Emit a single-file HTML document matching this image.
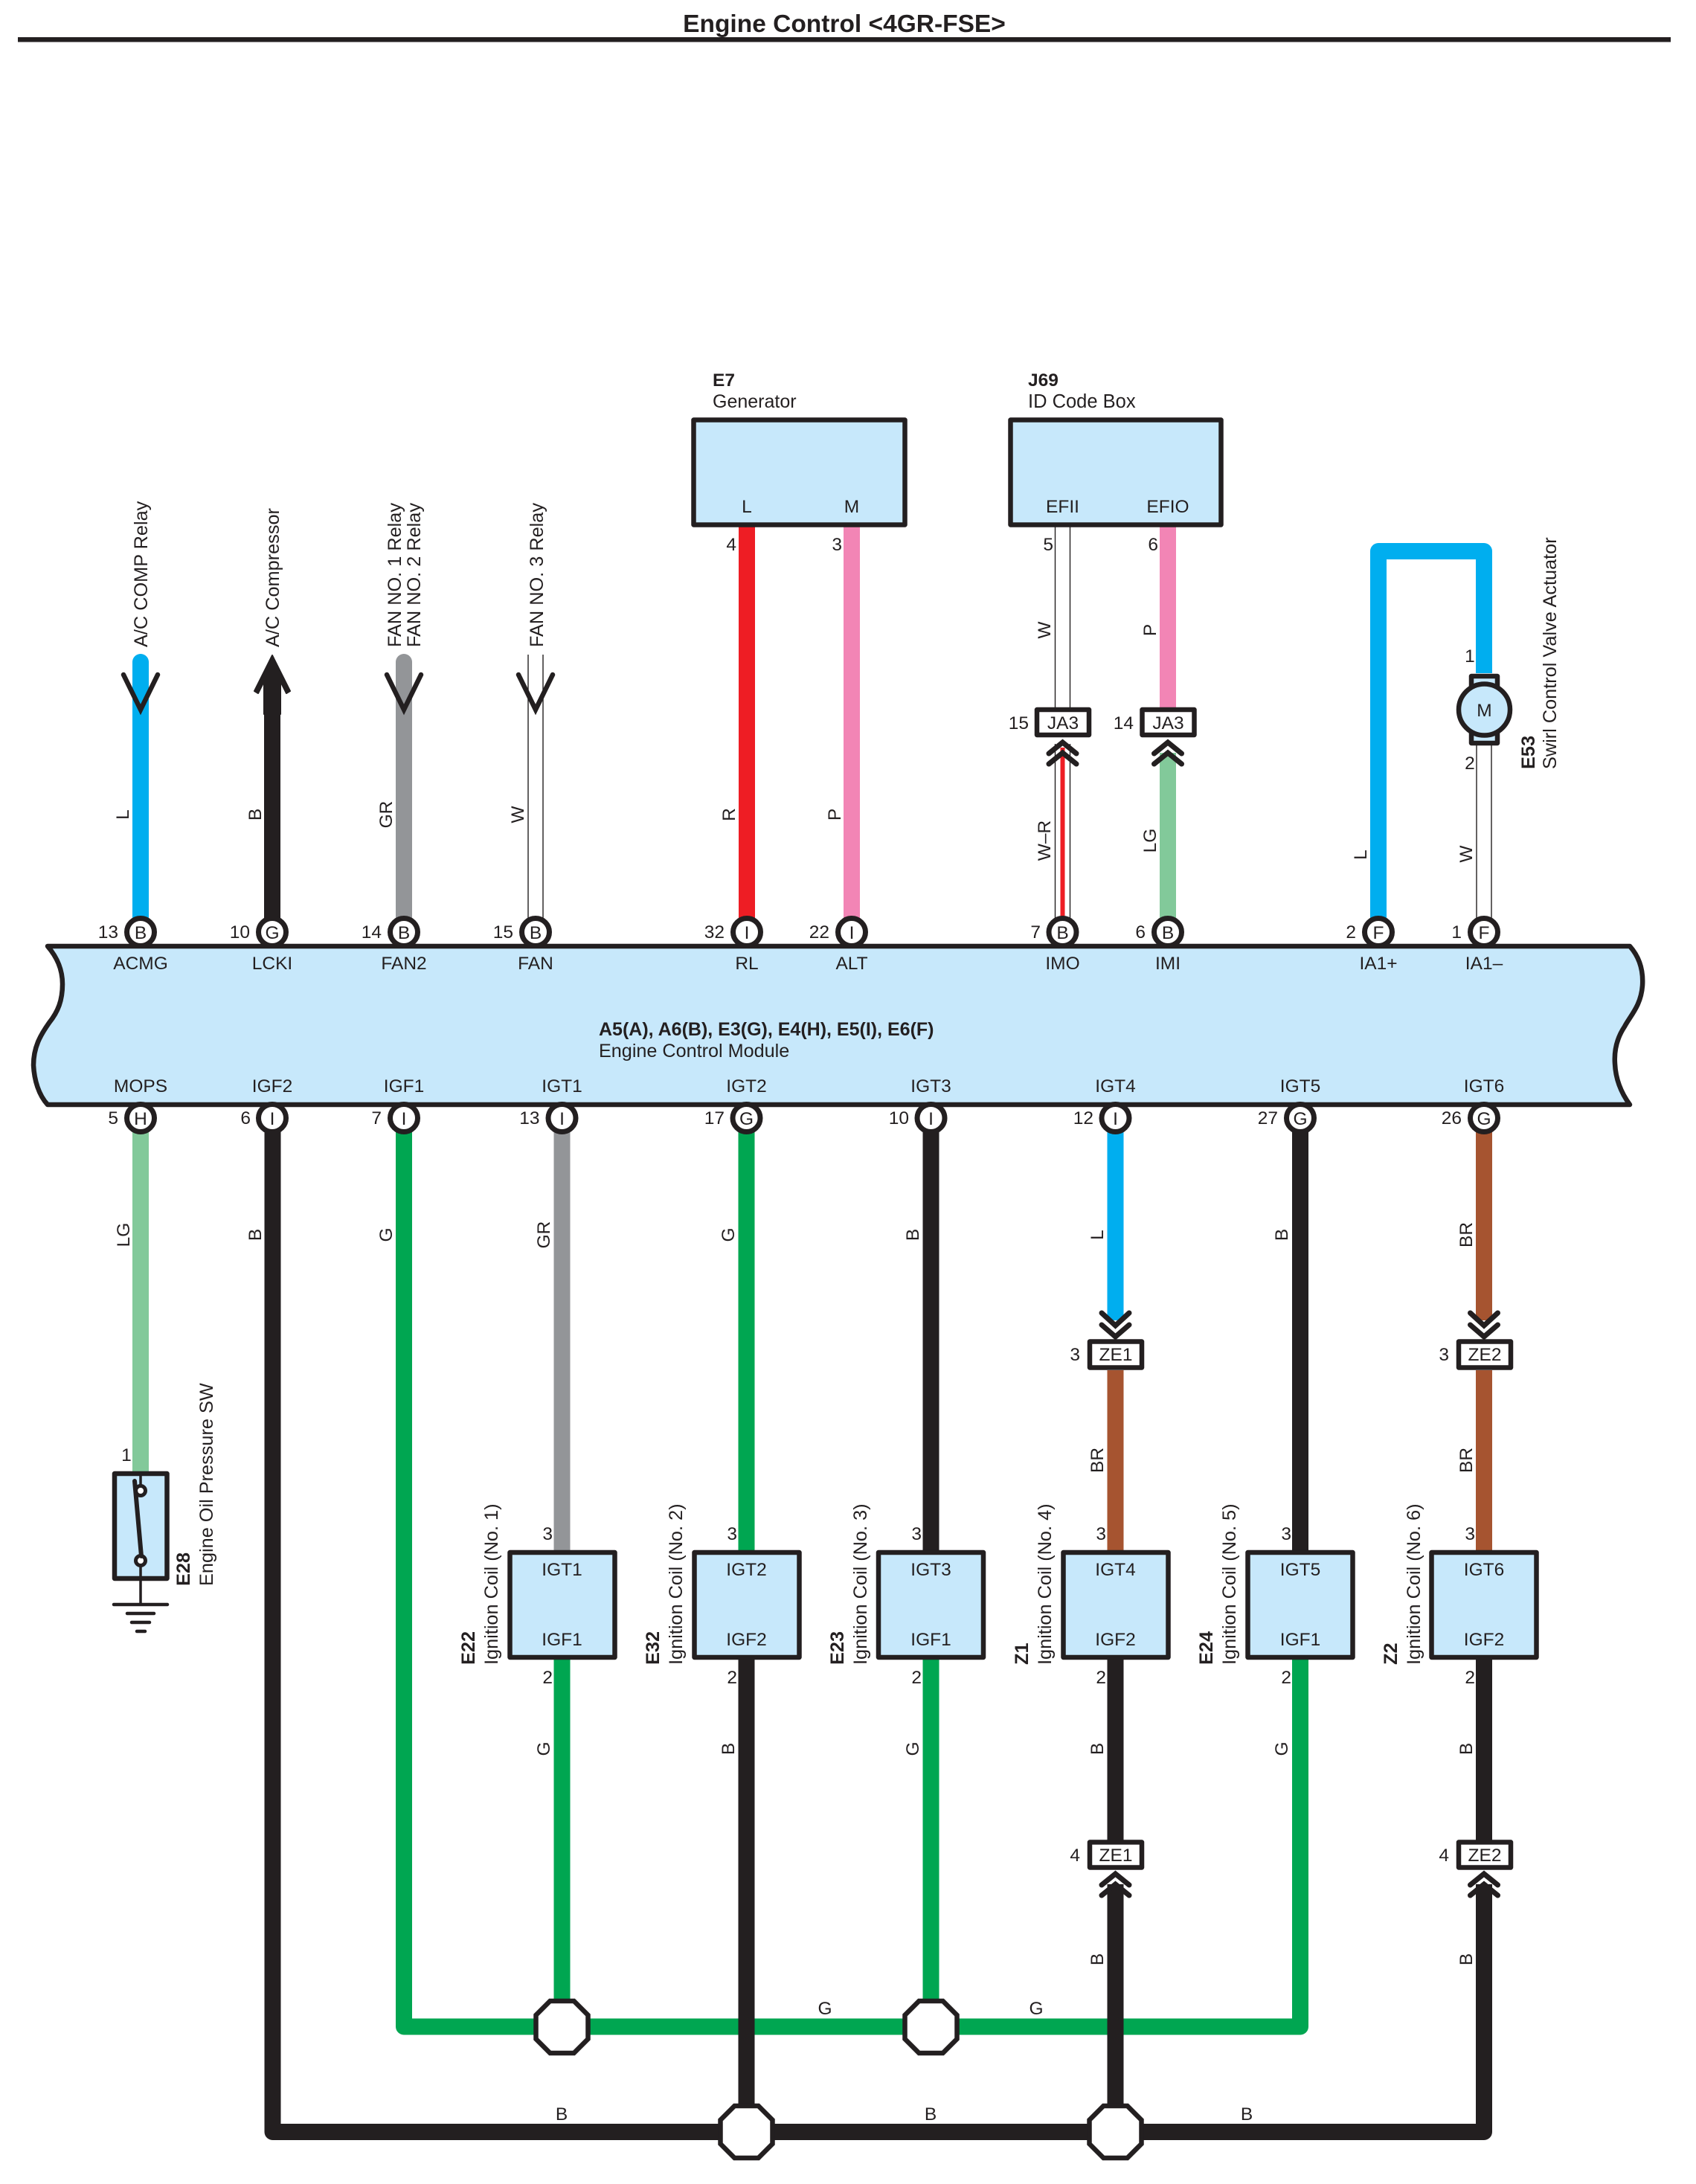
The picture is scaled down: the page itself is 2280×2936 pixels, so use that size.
<!DOCTYPE html>
<html><head><meta charset="utf-8"><style>
html,body{margin:0;padding:0;background:#fff}
svg{display:block}
text{font-family:"Liberation Sans",sans-serif;font-size:24.5px;fill:#231f20}
.m{text-anchor:middle}.e{text-anchor:end}.b{font-weight:bold}.r{font-size:25.3px}
.w{fill:none;stroke-width:22;stroke-linejoin:round}
.t{fill:none;stroke:#231f20;stroke-width:1.4}
.h{fill:none;stroke:#231f20;stroke-width:6.5;stroke-linecap:round;stroke-linejoin:miter}
.d{fill:none;stroke:#231f20;stroke-width:7;stroke-linecap:round;stroke-linejoin:miter}
.box{fill:#c7e8fb;stroke:#231f20;stroke-width:6.5;stroke-linejoin:round}
.pin{fill:#fff;stroke:#231f20;stroke-width:7}
.con{fill:#fff;stroke:#231f20;stroke-width:6.5;stroke-linejoin:round}
.oct{fill:#fff;stroke:#231f20;stroke-width:6.5}
.K{stroke:#231f20}.B{stroke:#00aeef}.A{stroke:#939598}.G{stroke:#00a651}.L{stroke:#82c99a}.R{stroke:#ee1d24}.P{stroke:#f285b5}.N{stroke:#a65430}
</style></head><body>
<svg xmlns="http://www.w3.org/2000/svg" width="2280" height="2936" viewBox="0 0 2280 2936">
<rect width="2280" height="2936" fill="#fff"/>
<text x="1135" y="43" class="m b" style="font-size:33.5px">Engine Control &lt;4GR-FSE&gt;</text>
<rect x="24" y="50" width="2222" height="6.5" fill="#231f20"/>

<!-- upper wires -->
<path class="w B" d="M189 890V1253" stroke-linecap="round"/>
<path class="w K" d="M366 905V1253"/>
<path class="w A" d="M543 890V1253" stroke-linecap="round"/>
<path class="t" d="M710 880V1253M730 880V1253"/>
<path class="w R" d="M1004 708V1253"/>
<path class="w P" d="M1145 708V1253"/>
<path class="t" d="M1418.5 708V951M1438.5 708V951M1418.5 1000V1253M1438.5 1000V1253"/>
<path d="M1428.5 1005V1253" fill="none" stroke="#ee1d24" stroke-width="6"/>
<path class="w P" d="M1570 708V951"/>
<path class="w L" d="M1570 1012V1253"/>
<path class="w B" d="M1853 1253V741H1995V905"/>
<path class="t" d="M1985 1000V1253M2005 1000V1253"/>

<!-- lower wires -->
<path class="w L" d="M189 1503V1980"/>
<path class="w A" d="M755.5 1503V2084"/>
<path class="w G" d="M1003.5 1503V2084"/>
<path class="w B" d="M1499.5 1503V1775"/>
<path class="w N" d="M1995 1503V1775"/>
<path class="w N" d="M1499.5 1842V2084"/>
<path class="w N" d="M1995 1842V2084"/>
<path class="w G" d="M543 1503V2724.5H1748V2231"/>
<path class="w G" d="M755.5 2231V2725"/>
<path class="w G" d="M1251.5 2231V2725"/>
<path class="w K" d="M1251.5 1503V2084"/>
<path class="w K" d="M1748 1503V2084"/>
<path class="w K" d="M366.5 1503V2866H1995V2533"/>
<path class="w K" d="M1003.5 2231V2866"/>
<path class="w K" d="M1499.5 2231V2474"/>
<path class="w K" d="M1499.5 2533V2866"/>
<path class="w K" d="M1995 2231V2474"/>

<!-- ECM -->
<path class="box" d="M64 1272H2191C2207 1290 2209 1310 2208 1325C2206 1352 2192 1365 2184 1380C2172 1398 2170 1416 2171 1430C2172 1452 2180 1470 2191 1485H64C52 1472 46 1452 45 1432C45 1408 54 1392 66 1375C78 1360 84 1345 84 1323C84 1302 76 1286 64 1272Z"/>

<!-- upper arrows -->
<path class="h" d="M166 907L189 954L212 907"/>
<path class="h" d="M520 907L543 954L566 907"/>
<path class="h" d="M697 907L720 954L743 907"/>
<path d="M366 881L342 929L347 932L355 916V960H377V916L385 932L390 929Z" fill="#231f20" stroke="#231f20" stroke-width="2" stroke-linejoin="round"/>

<!-- pins -->
<g>
<circle class="pin" cx="189" cy="1253" r="18.5"/><circle class="pin" cx="366" cy="1253" r="18.5"/><circle class="pin" cx="543" cy="1253" r="18.5"/><circle class="pin" cx="720" cy="1253" r="18.5"/><circle class="pin" cx="1004" cy="1253" r="18.5"/><circle class="pin" cx="1145" cy="1253" r="18.5"/><circle class="pin" cx="1428.5" cy="1253" r="18.5"/><circle class="pin" cx="1570" cy="1253" r="18.5"/><circle class="pin" cx="1853" cy="1253" r="18.5"/><circle class="pin" cx="1995" cy="1253" r="18.5"/>
<circle class="pin" cx="189" cy="1503" r="18.5"/><circle class="pin" cx="366" cy="1503" r="18.5"/><circle class="pin" cx="543" cy="1503" r="18.5"/><circle class="pin" cx="755.5" cy="1503" r="18.5"/><circle class="pin" cx="1003.5" cy="1503" r="18.5"/><circle class="pin" cx="1251.5" cy="1503" r="18.5"/><circle class="pin" cx="1499.5" cy="1503" r="18.5"/><circle class="pin" cx="1748" cy="1503" r="18.5"/><circle class="pin" cx="1995" cy="1503" r="18.5"/>
</g>
<g>
<text class="m" x="189" y="1262">B</text><text class="m" x="366" y="1262">G</text><text class="m" x="543" y="1262">B</text><text class="m" x="720" y="1262">B</text><text class="m" x="1004" y="1262">I</text><text class="m" x="1145" y="1262">I</text><text class="m" x="1428.5" y="1262">B</text><text class="m" x="1570" y="1262">B</text><text class="m" x="1853" y="1262">F</text><text class="m" x="1995" y="1262">F</text>
<text class="m" x="189" y="1512">H</text><text class="m" x="366" y="1512">I</text><text class="m" x="543" y="1512">I</text><text class="m" x="755.5" y="1512">I</text><text class="m" x="1003.5" y="1512">G</text><text class="m" x="1251.5" y="1512">I</text><text class="m" x="1499.5" y="1512">I</text><text class="m" x="1748" y="1512">G</text><text class="m" x="1995" y="1512">G</text>
</g>
<text class="e" x="159" y="1261">13</text><text class="e" x="336" y="1261">10</text><text class="e" x="513" y="1261">14</text><text class="e" x="690" y="1261">15</text><text class="e" x="974" y="1261">32</text><text class="e" x="1115" y="1261">22</text><text class="e" x="1399" y="1261">7</text><text class="e" x="1540" y="1261">6</text><text class="e" x="1823" y="1261">2</text><text class="e" x="1965" y="1261">1</text>
<text class="e" x="159" y="1511">5</text><text class="e" x="337" y="1511">6</text><text class="e" x="513" y="1511">7</text><text class="e" x="725.5" y="1511">13</text><text class="e" x="974" y="1511">17</text><text class="e" x="1222" y="1511">10</text><text class="e" x="1470" y="1511">12</text><text class="e" x="1718" y="1511">27</text><text class="e" x="1965" y="1511">26</text>

<!-- ECM labels -->
<text class="m" x="189" y="1303">ACMG</text><text class="m" x="366" y="1303">LCKI</text><text class="m" x="543" y="1303">FAN2</text><text class="m" x="720" y="1303">FAN</text><text class="m" x="1004" y="1303">RL</text><text class="m" x="1145" y="1303">ALT</text><text class="m" x="1428.5" y="1303">IMO</text><text class="m" x="1570" y="1303">IMI</text><text class="m" x="1853" y="1303">IA1+</text><text class="m" x="1995" y="1303">IA1–</text>
<text class="m" x="189" y="1468">MOPS</text><text class="m" x="366" y="1468">IGF2</text><text class="m" x="543" y="1468">IGF1</text><text class="m" x="755.5" y="1468">IGT1</text><text class="m" x="1003.5" y="1468">IGT2</text><text class="m" x="1251.5" y="1468">IGT3</text><text class="m" x="1499.5" y="1468">IGT4</text><text class="m" x="1748" y="1468">IGT5</text><text class="m" x="1995" y="1468">IGT6</text>
<text x="805" y="1392" class="b" style="font-size:25px">A5(A), A6(B), E3(G), E4(H), E5(I), E6(F)</text>
<text x="805" y="1421" style="font-size:25.2px">Engine Control Module</text>

<!-- top rotated labels -->
<text class="r" transform="translate(198 870) rotate(-90)">A/C COMP Relay</text>
<text class="r" transform="translate(375 870) rotate(-90)">A/C Compressor</text>
<text class="r" transform="translate(539 870) rotate(-90)">FAN NO. 1 Relay</text>
<text class="r" transform="translate(565 870) rotate(-90)">FAN NO. 2 Relay</text>
<text class="r" transform="translate(730 870) rotate(-90)">FAN NO. 3 Relay</text>

<!-- E7 / J69 -->
<text x="958" y="519" class="b">E7</text><text x="958" y="548" style="font-size:25px">Generator</text>
<rect class="box" x="932.5" y="564.5" width="284" height="141"/>
<text class="m" x="1004" y="689">L</text><text class="m" x="1145" y="689">M</text>
<text x="1382" y="519" class="b">J69</text><text x="1382" y="548" style="font-size:25.5px">ID Code Box</text>
<rect class="box" x="1358.5" y="564.5" width="283" height="141"/>
<text class="m" x="1428.5" y="689">EFII</text><text class="m" x="1570" y="689">EFIO</text>
<text class="e" x="990" y="740">4</text><text class="e" x="1132" y="740">3</text><text class="e" x="1416" y="740">5</text><text class="e" x="1557" y="740">6</text>

<!-- JA3 -->
<rect class="con" x="1394" y="954" width="70" height="34"/>
<rect class="con" x="1535.5" y="954" width="70" height="34"/>
<text class="m" x="1429" y="980">JA3</text><text class="m" x="1570.5" y="980">JA3</text>
<text class="e" x="1383" y="980">15</text><text class="e" x="1524" y="980">14</text>
<path class="d" d="M1410 1013L1428.5 998L1447 1013M1410 1027L1428.5 1012L1447 1027"/>
<path class="d" d="M1551.5 1013L1570 998L1588.5 1013M1551.5 1027L1570 1012L1588.5 1027"/>

<!-- motor -->
<rect class="box" x="1978" y="909" width="35" height="18" stroke-linejoin="miter"/>
<rect class="box" x="1978" y="983" width="35" height="16"/>
<circle class="box" cx="1995.5" cy="954" r="34.5"/>
<text class="m" x="1995.5" y="963">M</text>
<text class="m" x="1976" y="890">1</text><text class="m" x="1976" y="1034">2</text>
<text class="r b" transform="translate(2063 1034) rotate(-90)">E53</text>
<text class="r" transform="translate(2092 1034) rotate(-90)">Swirl Control Valve Actuator</text>

<!-- E28 -->
<rect class="box" x="154" y="1981" width="70.5" height="141"/>
<path d="M189 1981V2000M189 2105V2157" stroke="#231f20" stroke-width="3.5" fill="none"/>
<circle cx="189" cy="2004" r="6.5" fill="#fff" stroke="#231f20" stroke-width="5"/>
<circle cx="189" cy="2098" r="6.5" fill="#fff" stroke="#231f20" stroke-width="5"/>
<path d="M181 1991L190 2092" stroke="#231f20" stroke-width="6" stroke-linecap="round" fill="none"/>
<path d="M153 2157H225M171 2169H207M177 2181H201M184 2193H195" stroke="#231f20" stroke-width="4.5" stroke-linecap="round" fill="none"/>
<text class="m" x="170" y="1964">1</text>
<text class="r b" transform="translate(255 2132) rotate(-90)">E28</text>
<text class="r" transform="translate(286 2132) rotate(-90)">Engine Oil Pressure SW</text>

<!-- coils -->
<rect class="box" x="685.5" y="2087" width="141" height="141"/><rect class="box" x="933.5" y="2087" width="141" height="141"/><rect class="box" x="1181" y="2087" width="141" height="141"/><rect class="box" x="1429.5" y="2087" width="141" height="141"/><rect class="box" x="1677.5" y="2087" width="141" height="141"/><rect class="box" x="1924.5" y="2087" width="141" height="141"/>
<text class="m" x="755.5" y="2118">IGT1</text><text class="m" x="755.5" y="2212">IGF1</text>
<text class="m" x="1003.5" y="2118">IGT2</text><text class="m" x="1003.5" y="2212">IGF2</text>
<text class="m" x="1251.5" y="2118">IGT3</text><text class="m" x="1251.5" y="2212">IGF1</text>
<text class="m" x="1499.5" y="2118">IGT4</text><text class="m" x="1499.5" y="2212">IGF2</text>
<text class="m" x="1748" y="2118">IGT5</text><text class="m" x="1748" y="2212">IGF1</text>
<text class="m" x="1995" y="2118">IGT6</text><text class="m" x="1995" y="2212">IGF2</text>
<g>
<text class="e" x="743" y="2070">3</text><text class="e" x="743" y="2263">2</text>
<text class="e" x="991" y="2070">3</text><text class="e" x="991" y="2263">2</text>
<text class="e" x="1239" y="2070">3</text><text class="e" x="1239" y="2263">2</text>
<text class="e" x="1487" y="2070">3</text><text class="e" x="1487" y="2263">2</text>
<text class="e" x="1736" y="2070">3</text><text class="e" x="1736" y="2263">2</text>
<text class="e" x="1983" y="2070">3</text><text class="e" x="1983" y="2263">2</text>
</g>
<text class="r b" transform="translate(638 2238) rotate(-90)">E22</text><text class="r" transform="translate(669 2238) rotate(-90)">Ignition Coil (No. 1)</text>
<text class="r b" transform="translate(886 2238) rotate(-90)">E32</text><text class="r" transform="translate(917 2238) rotate(-90)">Ignition Coil (No. 2)</text>
<text class="r b" transform="translate(1134 2238) rotate(-90)">E23</text><text class="r" transform="translate(1165 2238) rotate(-90)">Ignition Coil (No. 3)</text>
<text class="r b" transform="translate(1382 2238) rotate(-90)">Z1</text><text class="r" transform="translate(1413 2238) rotate(-90)">Ignition Coil (No. 4)</text>
<text class="r b" transform="translate(1630 2238) rotate(-90)">E24</text><text class="r" transform="translate(1661 2238) rotate(-90)">Ignition Coil (No. 5)</text>
<text class="r b" transform="translate(1878 2238) rotate(-90)">Z2</text><text class="r" transform="translate(1909 2238) rotate(-90)">Ignition Coil (No. 6)</text>

<!-- ZE connectors -->
<rect class="con" x="1465" y="1803.5" width="70" height="35"/><rect class="con" x="1961" y="1803.5" width="70" height="35"/>
<rect class="con" x="1465" y="2476.5" width="70" height="34"/><rect class="con" x="1961" y="2476.5" width="70" height="34"/>
<text class="m" x="1500" y="1829">ZE1</text><text class="m" x="1996" y="1829">ZE2</text>
<text class="m" x="1500" y="2502">ZE1</text><text class="m" x="1996" y="2502">ZE2</text>
<text class="e" x="1452" y="1829">3</text><text class="e" x="1948" y="1829">3</text><text class="e" x="1452" y="2502">4</text><text class="e" x="1948" y="2502">4</text>
<path class="d" d="M1481 1765L1499.5 1782L1518 1765M1481 1781L1499.5 1797L1518 1781"/>
<path class="d" d="M1976.5 1765L1995 1782L2013.5 1765M1976.5 1781L1995 1797L2013.5 1781"/>
<path class="d" d="M1481 2534L1499.5 2519L1518 2534M1481 2548L1499.5 2533L1518 2548"/>
<path class="d" d="M1976.5 2534L1995 2519L2013.5 2534M1976.5 2548L1995 2533L2013.5 2548"/>

<!-- octagons -->
<polygon class="oct" points="739.5,2690 771.5,2690 790.5,2709 790.5,2741 771.5,2760 739.5,2760 720.5,2741 720.5,2709"/>
<polygon class="oct" points="1235.5,2690 1267.5,2690 1286.5,2709 1286.5,2741 1267.5,2760 1235.5,2760 1216.5,2741 1216.5,2709"/>
<polygon class="oct" points="987.5,2831 1019.5,2831 1038.5,2850 1038.5,2882 1019.5,2901 987.5,2901 968.5,2882 968.5,2850"/>
<polygon class="oct" points="1483.5,2831 1515.5,2831 1534.5,2850 1534.5,2882 1515.5,2901 1483.5,2901 1464.5,2882 1464.5,2850"/>

<!-- bus labels -->
<text class="m" x="755" y="2850">B</text><text class="m" x="1251" y="2850">B</text><text class="m" x="1676" y="2850">B</text>
<text class="m" x="1109" y="2708">G</text><text class="m" x="1393" y="2708">G</text>

<!-- wire labels -->
<text class="m" transform="translate(173 1095) rotate(-90)">L</text>
<text class="m" transform="translate(351 1095) rotate(-90)">B</text>
<text class="m" transform="translate(527 1095) rotate(-90)">GR</text>
<text class="m" transform="translate(704 1095) rotate(-90)">W</text>
<text class="m" transform="translate(988 1095) rotate(-90)">R</text>
<text class="m" transform="translate(1130 1095) rotate(-90)">P</text>
<text class="m" transform="translate(1412 847) rotate(-90)">W</text>
<text class="m" transform="translate(1554 847) rotate(-90)">P</text>
<text class="m" transform="translate(1412 1130) rotate(-90)">W–R</text>
<text class="m" transform="translate(1554 1130) rotate(-90)">LG</text>
<text class="m" transform="translate(1837 1149) rotate(-90)">L</text>
<text class="m" transform="translate(1979 1148) rotate(-90)">W</text>
<text class="m" transform="translate(174 1660) rotate(-90)">LG</text>
<text class="m" transform="translate(351 1660) rotate(-90)">B</text>
<text class="m" transform="translate(527 1660) rotate(-90)">G</text>
<text class="m" transform="translate(739 1660) rotate(-90)">GR</text>
<text class="m" transform="translate(987 1660) rotate(-90)">G</text>
<text class="m" transform="translate(1235 1660) rotate(-90)">B</text>
<text class="m" transform="translate(1483 1660) rotate(-90)">L</text>
<text class="m" transform="translate(1731 1660) rotate(-90)">B</text>
<text class="m" transform="translate(1979 1660) rotate(-90)">BR</text>
<text class="m" transform="translate(1483 1963) rotate(-90)">BR</text>
<text class="m" transform="translate(1979 1963) rotate(-90)">BR</text>
<text class="m" transform="translate(739 2351) rotate(-90)">G</text>
<text class="m" transform="translate(987 2351) rotate(-90)">B</text>
<text class="m" transform="translate(1235 2351) rotate(-90)">G</text>
<text class="m" transform="translate(1483 2351) rotate(-90)">B</text>
<text class="m" transform="translate(1731 2351) rotate(-90)">G</text>
<text class="m" transform="translate(1979 2351) rotate(-90)">B</text>
<text class="m" transform="translate(1483 2634) rotate(-90)">B</text>
<text class="m" transform="translate(1979 2634) rotate(-90)">B</text>
</svg>
</body></html>
